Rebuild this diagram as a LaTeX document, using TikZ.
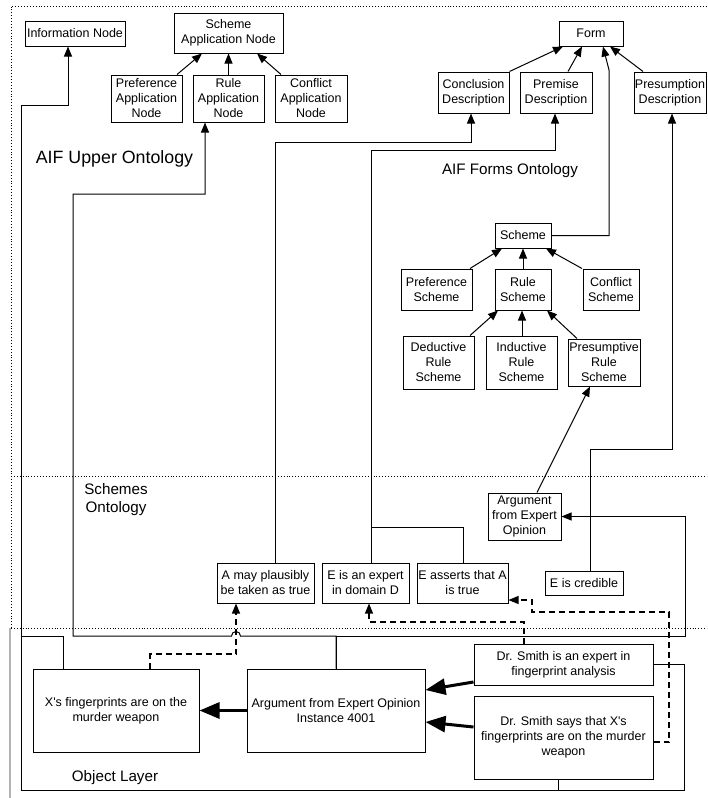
\documentclass[tikz,border=0pt]{standalone}
\usepackage{fontspec}
\setmainfont{Liberation Sans}
\usetikzlibrary{arrows.meta}

\tikzset{
  box/.style={draw, line width=1pt, align=center, inner sep=0pt,
    font=\fontsize{12.5}{15}\selectfont},
  link/.style={line width=1pt},
  arr/.style={line width=1pt, -{Triangle[length=10pt,width=8pt]}},
  dasharr/.style={line width=1.1pt, dash pattern=on 6pt off 4pt,
    -{Triangle[length=10pt,width=8pt]}},
  fatarr/.style={line width=3pt, -{Triangle[length=20pt,width=16pt]}},
  layer/.style={align=center, font=\fontsize{15.2}{18}\selectfont},
  border/.style={dotted, line width=0.9pt}
}

\begin{document}
\begin{tikzpicture}[x=1pt,y=-1pt]
  \useasboundingbox (0,0) rectangle (707,798);

  % layer borders
  \draw[border] (11,628) -- (11,6) -- (707,6);
  \foreach \y in {476,628}{
    \draw[border] (11,\y) -- (707,\y);
  }
  \draw[gray!60, line width=2pt] (10,628) -- (10,798);

  % layer titles
  \node[anchor=base, font=\fontsize{17.8}{20}\selectfont] (upper) at (114.5,163) {AIF Upper Ontology};
  \node[anchor=base, layer] (forms) at (510,174) {AIF Forms Ontology};
  \node[layer] (schemes) at (116,500) {Schemes\\Ontology};
  \node[anchor=base, layer] (object) at (115,781) {Object Layer};

  % AIF upper ontology
  \node[box, minimum width=100pt, minimum height=25pt] (info) at (75,33.5) {Information Node};
  \node[box, minimum width=109pt, minimum height=40pt] (san) at (228.5,33) {Scheme\\Application Node};
  \node[box, minimum width=71pt, minimum height=47pt] (prefan) at (146.5,98.5) {Preference\\Application\\Node};
  \node[box, minimum width=71pt, minimum height=47pt] (rulean) at (228.5,98.5) {Rule\\Application\\Node};
  \node[box, minimum width=72pt, minimum height=47pt] (conflan) at (311,98.5) {Conflict\\Application\\Node};

  % AIF forms ontology
  \node[box, minimum width=64pt, minimum height=25pt] (form) at (591,33.5) {Form};
  \node[box, minimum width=71pt, minimum height=41pt] (concl) at (473.5,92.5) {Conclusion\\Description};
  \node[box, minimum width=72pt, minimum height=41pt] (premise) at (556,92.5) {Premise\\Description};
  \node[box, minimum width=72pt, minimum height=41pt] (presump) at (670,92.5) {Presumption\\Description};
  \node[box, minimum width=56pt, minimum height=25pt] (scheme) at (523,235.5) {Scheme};
  \node[box, minimum width=71pt, minimum height=41pt] (prefs) at (436.5,289.5) {Preference\\Scheme};
  \node[box, minimum width=56pt, minimum height=41pt] (rules) at (523,289.5) {Rule\\Scheme};
  \node[box, minimum width=56pt, minimum height=41pt] (confls) at (611,289.5) {Conflict\\Scheme};
  \node[box, minimum width=71pt, minimum height=53pt] (deds) at (438.5,362.5) {Deductive\\Rule\\Scheme};
  \node[box, minimum width=71pt, minimum height=53pt] (inds) at (521.5,362.5) {Inductive\\Rule\\Scheme};
  \node[box, minimum width=72pt, minimum height=47pt] (presrs) at (604,362.5) {Presumptive\\Rule\\Scheme};

  % schemes ontology
  \node[box, minimum width=73pt, minimum height=47pt] (aeo) at (524.5,516.5) {Argument\\from Expert\\Opinion};
  \node[box, minimum width=97pt, minimum height=40pt] (amp) at (265.5,583) {A may plausibly\\be taken as true};
  \node[box, minimum width=87pt, minimum height=40pt] (eexp) at (365.5,583) {E is an expert\\in domain D};
  \node[box, minimum width=91pt, minimum height=40pt] (eass) at (462.5,583) {E asserts that A\\is true};
  \node[box, minimum width=78pt, minimum height=24pt] (ecred) at (584,583) {E is credible};

  % object layer
  \node[box, minimum width=166pt, minimum height=83pt] (xfp) at (116,710.5) {X\textquotesingle s fingerprints are on the\\murder weapon};
  \node[box, minimum width=178pt, minimum height=83pt] (ra) at (336,710.5) {Argument from Expert Opinion\\Instance 4001};
  \node[box, minimum width=179pt, minimum height=41pt] (smexp) at (563.5,664.5) {Dr. Smith is an expert in\\fingerprint analysis};
  \node[box, minimum width=179pt, minimum height=83pt] (smsays) at (563.5,737.5) {Dr. Smith says that X\textquotesingle s\\fingerprints are on the murder\\weapon};

  % upper ontology links
  \draw[arr] ([xshift=30.5pt]prefan.north) -- ([xshift=-26.5pt]san.south);
  \draw[arr] (rulean.north) -- (san.south);
  \draw[arr] ([xshift=-30pt]conflan.north) -- ([xshift=28.5pt]san.south);

  % forms links
  \draw[arr] (concl.north east) -- ([xshift=-28pt]form.south);
  \draw[arr] ([xshift=12pt]premise.north) -- ([xshift=-9pt]form.south);
  \draw[arr] ([xshift=-27pt]presump.north) -- ([xshift=19pt]form.south);
  \draw[arr] (scheme.east) -| (609,70) -- ([xshift=12pt]form.south);
  \draw[arr] ([xshift=33.5pt]prefs.north) -- ([xshift=-21pt]scheme.south);
  \draw[arr] (rules.north) -- (scheme.south);
  \draw[arr] ([xshift=-29pt]confls.north) -- ([xshift=23pt]scheme.south);
  \draw[arr] ([xshift=31.5pt]deds.north) -- ([xshift=-25pt]rules.south);
  \draw[arr] ([xshift=0.5pt]inds.north) -- (rules.south -| 522,0);
  \draw[arr] ([xshift=-27pt]presrs.north) -- ([xshift=24pt]rules.south);

  % schemes ontology links
  \draw[arr] ([xshift=12.5pt]aeo.north) -- ([xshift=-14pt]presrs.south);
  \draw[arr] ([xshift=9.5pt]amp.north) |- (471,142) -- ([xshift=-2.5pt]concl.south);
  \draw[arr] ([xshift=5.5pt]eexp.north) |- (555,150) -- ([xshift=-1pt]premise.south);
  \draw[link] ([xshift=0.5pt]eass.north) |- (371,527);
  \draw[arr] ([xshift=6pt]ecred.north) |- (672,449) -- ([xshift=2pt]presump.south);

  % object layer links
  \draw[arr] ([xshift=-53pt]xfp.north) |- (21,636) |- (68,105) -- ([xshift=-7pt]info.south);
  \draw[link] (smexp.east) -| (684,790) -| (21,636);
  \draw[link] ([xshift=-5.5pt]smsays.south) -- (558,790);
  \draw[arr] (ra.north) |- (685,636) |- (aeo.east);
  \draw[arr] (ra.north) -- (336,636) -- (240.5,636)
    arc[start angle=0, end angle=180, radius=4.5pt] -- (73,636) |- (205,194)
    -- ([xshift=-23.5pt]rulean.south);

  \draw[dasharr] ([xshift=34pt]xfp.north) |- (236,654) -- ([xshift=-29.5pt]amp.south);
  \draw[dasharr] ([xshift=-39.5pt]smexp.north) |- (369,622) -- ([xshift=3.5pt]eexp.south);
  \draw[dasharr] ([yshift=-4.5pt]smsays.east) -| (669,612) -| (532,600) -- ([yshift=-17pt]eass.east);

  \draw[fatarr] ([yshift=-17.5pt]smexp.west) -- ([yshift=20.5pt]ra.east);
  \draw[fatarr] ([yshift=10.5pt]smsays.west) -- ([yshift=-11.5pt]ra.east);
  \draw[fatarr] (ra.west) -- (xfp.east);
\end{tikzpicture}
\end{document}
